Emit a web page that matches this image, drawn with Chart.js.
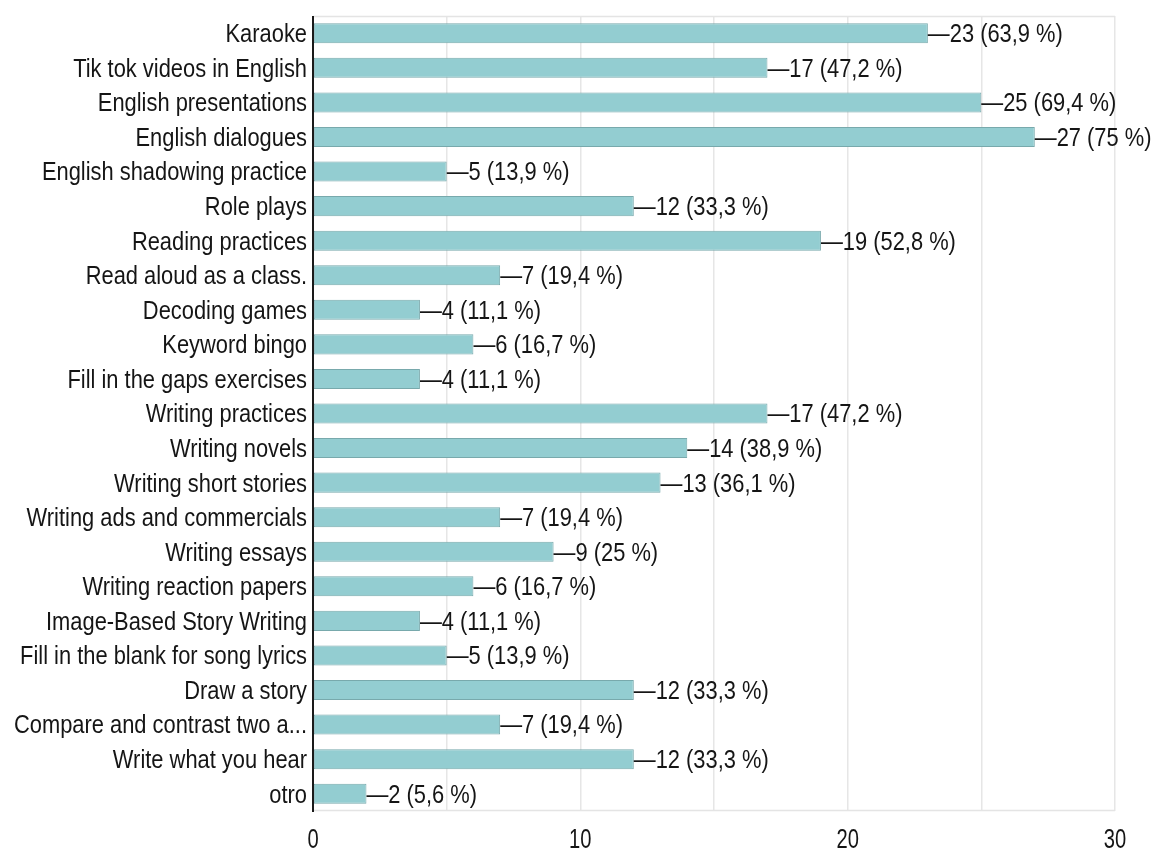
<!DOCTYPE html>
<html>
<head>
<meta charset="utf-8">
<script src="https://cdn.jsdelivr.net/npm/chart.js@4"></script>
<style>
  html, body { margin: 0; padding: 0; background: #fff; }
  #wrap { width: 1153px; height: 852px; position: relative; }
</style>
</head>
<body>
<div id="wrap"><canvas id="c"></canvas></div>
<script>
const categories = [
  "Karaoke",
  "Tik tok videos in English",
  "English presentations",
  "English dialogues",
  "English shadowing practice",
  "Role plays",
  "Reading practices",
  "Read aloud as a class.",
  "Decoding games",
  "Keyword bingo",
  "Fill in the gaps exercises",
  "Writing practices",
  "Writing novels",
  "Writing short stories",
  "Writing ads and commercials",
  "Writing essays",
  "Writing reaction papers",
  "Image-Based Story Writing",
  "Fill in the blank for song lyrics",
  "Draw a story",
  "Compare and contrast two a...",
  "Write what you hear",
  "otro"
];
const counts = [23, 17, 25, 27, 5, 12, 19, 7, 4, 6, 4, 17, 14, 13, 7, 9, 6, 4, 5, 12, 7, 12, 2];
const percents = ["63,9", "47,2", "69,4", "75", "13,9", "33,3", "52,8", "19,4", "11,1", "16,7", "11,1",
  "47,2", "38,9", "36,1", "19,4", "25", "16,7", "11,1", "13,9", "33,3", "19,4", "33,3", "5,6"];
const xTicks = [0, 10, 20, 30];

const FONT = '"Liberation Sans", Arial, sans-serif';
const SQUEEZE = 0.875;

// Draw text horizontally condensed about its anchor x (mimics a narrow typeface).
function condensedFill(ctx, k, dy, fn) {
  const orig = ctx.fillText;
  ctx.fillText = function (text, x, y, maxWidth) {
    ctx.save();
    ctx.translate(x, y + dy);
    ctx.scale(k, 1);
    if (maxWidth === undefined) orig.call(ctx, text, 0, 0);
    else orig.call(ctx, text, 0, 0, maxWidth / k);
    ctx.restore();
  };
  try { fn(); } finally { ctx.fillText = orig; }
}

function patchScale(s, k, dy) {
  if (s._condensedPatched) return;
  s._condensedPatched = true;
  const origDraw = s.drawLabels;
  s.drawLabels = function (area) {
    condensedFill(this.ctx, k, dy, () => origDraw.call(this, area));
  };
}

const valueLabels = {
  id: 'valueLabels',
  afterDatasetsDraw(chart) {
    const ctx = chart.ctx;
    const meta = chart.getDatasetMeta(0);
    ctx.save();
    ctx.font = '25px ' + FONT;
    ctx.fillStyle = '#151515';
    ctx.textBaseline = 'middle';
    ctx.textAlign = 'left';
    condensedFill(ctx, SQUEEZE, 2, () => {
      meta.data.forEach((bar, i) => {
        ctx.fillText('\u2014' + counts[i] + ' (' + percents[i] + ' %)', bar.x, bar.y);
      });
    });
    ctx.restore();
  }
};

const frame = {
  id: 'frame',
  beforeDatasetsDraw(chart) {
    const a = chart.chartArea, ctx = chart.ctx;
    ctx.save();
    ctx.strokeStyle = '#e4e4e4';
    ctx.lineWidth = 1.5;
    ctx.beginPath();
    ctx.moveTo(a.left, a.top + 0.5); ctx.lineTo(a.right, a.top + 0.5);
    ctx.moveTo(a.left, a.bottom - 0.5); ctx.lineTo(a.right, a.bottom - 0.5);
    ctx.stroke();
    ctx.restore();
  },
  afterDatasetsDraw(chart) {
    const a = chart.chartArea, ctx = chart.ctx;
    ctx.save();
    ctx.strokeStyle = '#1a1a1a';
    ctx.lineWidth = 2;
    ctx.beginPath();
    ctx.moveTo(a.left, a.top); ctx.lineTo(a.left, a.bottom + 1);
    ctx.stroke();
    ctx.restore();
  }
};

new Chart(document.getElementById('c'), {
  type: 'bar',
  data: {
    labels: categories,
    datasets: [{
      data: counts,
      backgroundColor: '#93cdd1',
      borderColor: '#78a9ac',
      borderWidth: 1,
      borderSkipped: false,
      categoryPercentage: 1,
      barPercentage: 0.58
    }]
  },
  options: {
    indexAxis: 'y',
    responsive: true,
    maintainAspectRatio: false,
    animation: false,
    layout: { padding: { left: 0, right: 38, top: 16, bottom: 0 } },
    plugins: { legend: { display: false }, tooltip: { enabled: false } },
    scales: {
      x: {
        min: 0, max: 30,
        afterFit(s) { s.height = 41; s.paddingLeft = 0; s.paddingRight = 0; patchScale(s, 0.72, 0); },
        border: { display: false },
        grid: { color: '#e6e6e6', lineWidth: 1.5, drawTicks: false },
        ticks: {
          stepSize: 5,
          autoSkip: false,
          maxRotation: 0,
          padding: 12,
          color: '#151515',
          font: { family: FONT, size: 28 },
          callback: (v) => xTicks.includes(v) ? String(v) : ''
        }
      },
      y: {
        afterFit(s) { s.width = 313; s.paddingTop = 0; s.paddingBottom = 0; patchScale(s, SQUEEZE, 2); },
        border: { display: false },
        grid: { display: false, drawTicks: false },
        ticks: {
          autoSkip: false,
          padding: 6,
          color: '#151515',
          font: { family: FONT, size: 25 }
        }
      }
    }
  },
  plugins: [frame, valueLabels]
});
</script>
</body>
</html>
